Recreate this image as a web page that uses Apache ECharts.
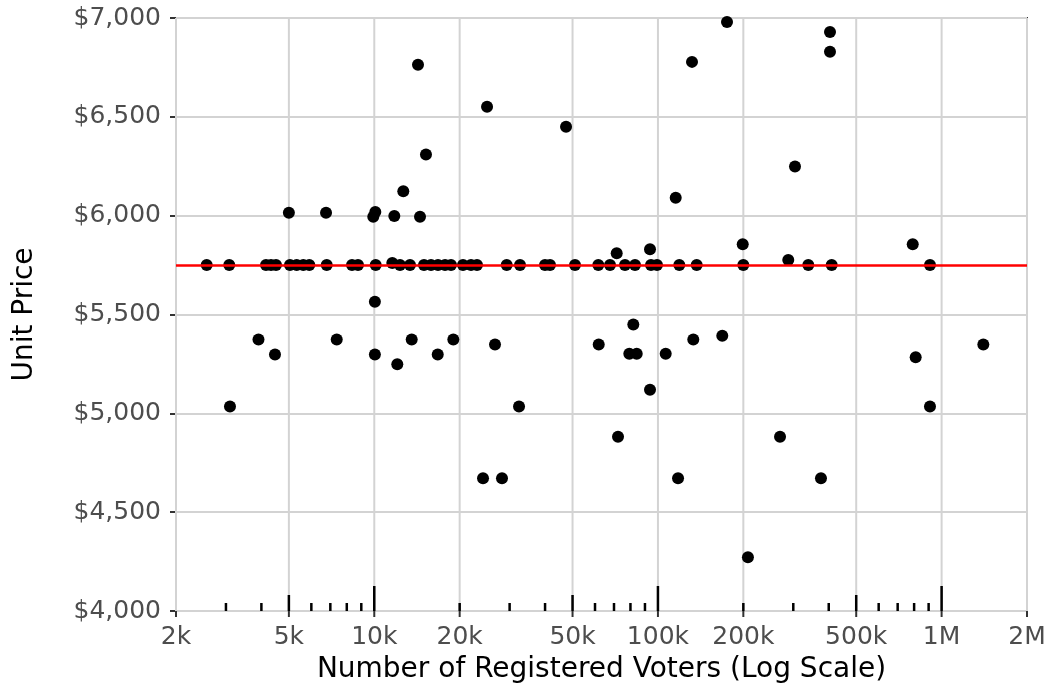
<!DOCTYPE html>
<html>
<head>
<meta charset="utf-8">
<script src="https://cdn.jsdelivr.net/npm/echarts@6/dist/echarts.min.js"></script>
<style>
html,body{margin:0;padding:0;background:#fff;}
#chart{width:1050px;height:689px;}
</style>
</head>
<body>
<div id="chart"></div>
<script>
// ---- data ----
const voters = [
  2566, 3082, 4153, 4325, 4504, 5044, 5327, 5620, 5902, 6798,
  8347, 8764, 10116, 11575, 12323, 13364, 14971, 15850, 16778, 17760,
  18641, 20546, 21924, 23020, 29302, 32642, 39980, 41644, 51004, 61630,
  67768, 76530, 83020, 94518, 99228, 118938, 136974, 199954, 338860, 409720,
  909980,
  5000, 6760, 9920, 10084, 11765, 12657, 14496, 14260, 15214, 24977,
  47428, 115514, 131834, 175160, 304200, 404120, 404120, 71552, 93760, 199000,
  288060, 791000,
  3907, 4467, 3100, 7373, 10050, 10050, 12054, 13550, 16739, 18996,
  26644, 61832, 81880, 79260, 84180, 106500, 133240, 168580, 810200, 1403000,
  24174, 28200, 32380, 72320, 93760, 117720, 269400, 207600, 375600, 910000
];
const prices = [
  5750, 5750, 5750, 5750, 5750, 5750, 5750, 5750, 5750, 5750,
  5750, 5750, 5750, 5760, 5750, 5750, 5750, 5750, 5750, 5750,
  5750, 5750, 5750, 5750, 5750, 5750, 5750, 5750, 5750, 5750,
  5750, 5750, 5750, 5750, 5750, 5750, 5750, 5750, 5750, 5750,
  5750,
  6015, 6015, 5995, 6018, 5998, 6124, 5995, 6763, 6309, 6551,
  6450, 6091, 6778, 6980, 6249, 6929, 6829, 5810, 5830, 5855,
  5776, 5855,
  5373, 5298, 5035, 5373, 5565, 5298, 5248, 5373, 5298, 5373,
  5348, 5348, 5449, 5301, 5301, 5301, 5373, 5393, 5284, 5348,
  4671, 4671, 5034, 4882, 5119, 4671, 4882, 4272, 4671, 5034
];
const REF_PRICE = 5750;

const X_MIN = 2000, X_MAX = 2000000;
const Y_MIN = 4000, Y_MAX = 7000, Y_STEP = 500;
const xTickValues = [2000, 5000, 10000, 20000, 50000, 100000, 200000, 500000, 1000000, 2000000];
const xTickLabels = ['2k', '5k', '10k', '20k', '50k', '100k', '200k', '500k', '1M', '2M'];
// rug ticks along the bottom: level 0=short, 1=medium (5x), 2=long (10^n)
const rugValues = [3000, 4000, 5000, 6000, 7000, 8000, 9000, 10000,
  20000, 30000, 40000, 50000, 60000, 70000, 80000, 90000, 100000,
  200000, 300000, 400000, 500000, 600000, 700000, 800000, 900000, 1000000];
const rugLevels = [0, 0, 1, 0, 0, 0, 0, 2,
  0, 0, 0, 1, 0, 0, 0, 0, 2,
  0, 0, 0, 1, 0, 0, 0, 0, 2];

const FONT = '"DejaVu Sans"';
const TICK_FS = 25;
const TITLE_FS = 28;
const points = voters.map((v, i) => [v, prices[i]]);
const rugLen = [8, 16, 25];

const chart = echarts.init(document.getElementById('chart'), null, {renderer: 'canvas'});
chart.setOption({
  animation: false,
  backgroundColor: '#ffffff',
  grid: {left: 176, right: 23, top: 18, bottom: 76, show: true, borderColor: '#333333', borderWidth: 2, backgroundColor: 'transparent'},
  xAxis: {
    type: 'log', logBase: 10, min: X_MIN, max: X_MAX,
    axisLine: {show: false}, axisTick: {show: false}, axisLabel: {show: false}, splitLine: {show: false},
    name: 'Number of Registered Voters (Log Scale)', nameLocation: 'middle', nameGap: 45,
    nameTextStyle: {fontFamily: FONT, fontSize: TITLE_FS, color: '#000'}
  },
  yAxis: {
    type: 'value', min: Y_MIN, max: Y_MAX, interval: Y_STEP,
    axisLine: {show: false},
    axisTick: {show: true, length: 6, lineStyle: {color: '#333', width: 2}},
    axisLabel: {margin: 15, fontFamily: FONT, fontSize: TICK_FS, color: '#4d4d4d',
      formatter: v => '$' + v.toLocaleString('en-US')},
    splitLine: {show: true, lineStyle: {color: '#d3d3d3', width: 2}},
    name: 'Unit Price', nameLocation: 'middle', nameGap: 137,
    nameTextStyle: {fontFamily: FONT, fontSize: TITLE_FS, color: '#000'}
  },
  series: [
    {
      type: 'custom', z: 1, silent: true,
      data: xTickValues.map((v, i) => [v, Y_MIN, i]),
      renderItem: (params, api) => {
        const v = api.value(0);
        const idx = api.value(2);
        const top = api.coord([v, Y_MAX]);
        const bot = api.coord([v, Y_MIN]);
        return {
          type: 'group',
          children: [
            {type: 'line', shape: {x1: top[0], y1: top[1], x2: bot[0], y2: bot[1]},
              style: {stroke: '#d3d3d3', lineWidth: 2}},
            {type: 'line', shape: {x1: bot[0], y1: bot[1], x2: bot[0], y2: bot[1] + 6},
              style: {stroke: '#333', lineWidth: 2}},
            {type: 'text', x: bot[0], y: bot[1] + 26,
              style: {text: xTickLabels[idx], fill: '#4d4d4d', font: TICK_FS + 'px ' + FONT, align: 'center', verticalAlign: 'middle'}}
          ]
        };
      }
    },
    {
      type: 'custom', z: 3, silent: true,
      data: rugValues.map((v, i) => [v, Y_MIN, rugLevels[i]]),
      renderItem: (params, api) => {
        const p = api.coord([api.value(0), Y_MIN]);
        const len = rugLen[api.value(2)];
        return {type: 'line', shape: {x1: p[0], y1: p[1], x2: p[0], y2: p[1] - len},
          style: {stroke: '#000', lineWidth: 2.5}};
      }
    },
    {
      type: 'scatter', z: 4, symbol: 'circle', symbolSize: 12,
      itemStyle: {color: '#000', opacity: 1},
      data: points
    },
    {
      type: 'line', z: 5, data: [], silent: true,
      markLine: {silent: true, symbol: ['none', 'none'], label: {show: false},
        lineStyle: {color: '#ff0000', width: 2.5, type: 'solid', opacity: 1},
        data: [{yAxis: REF_PRICE}]}
    }
  ]
});
</script>
</body>
</html>
